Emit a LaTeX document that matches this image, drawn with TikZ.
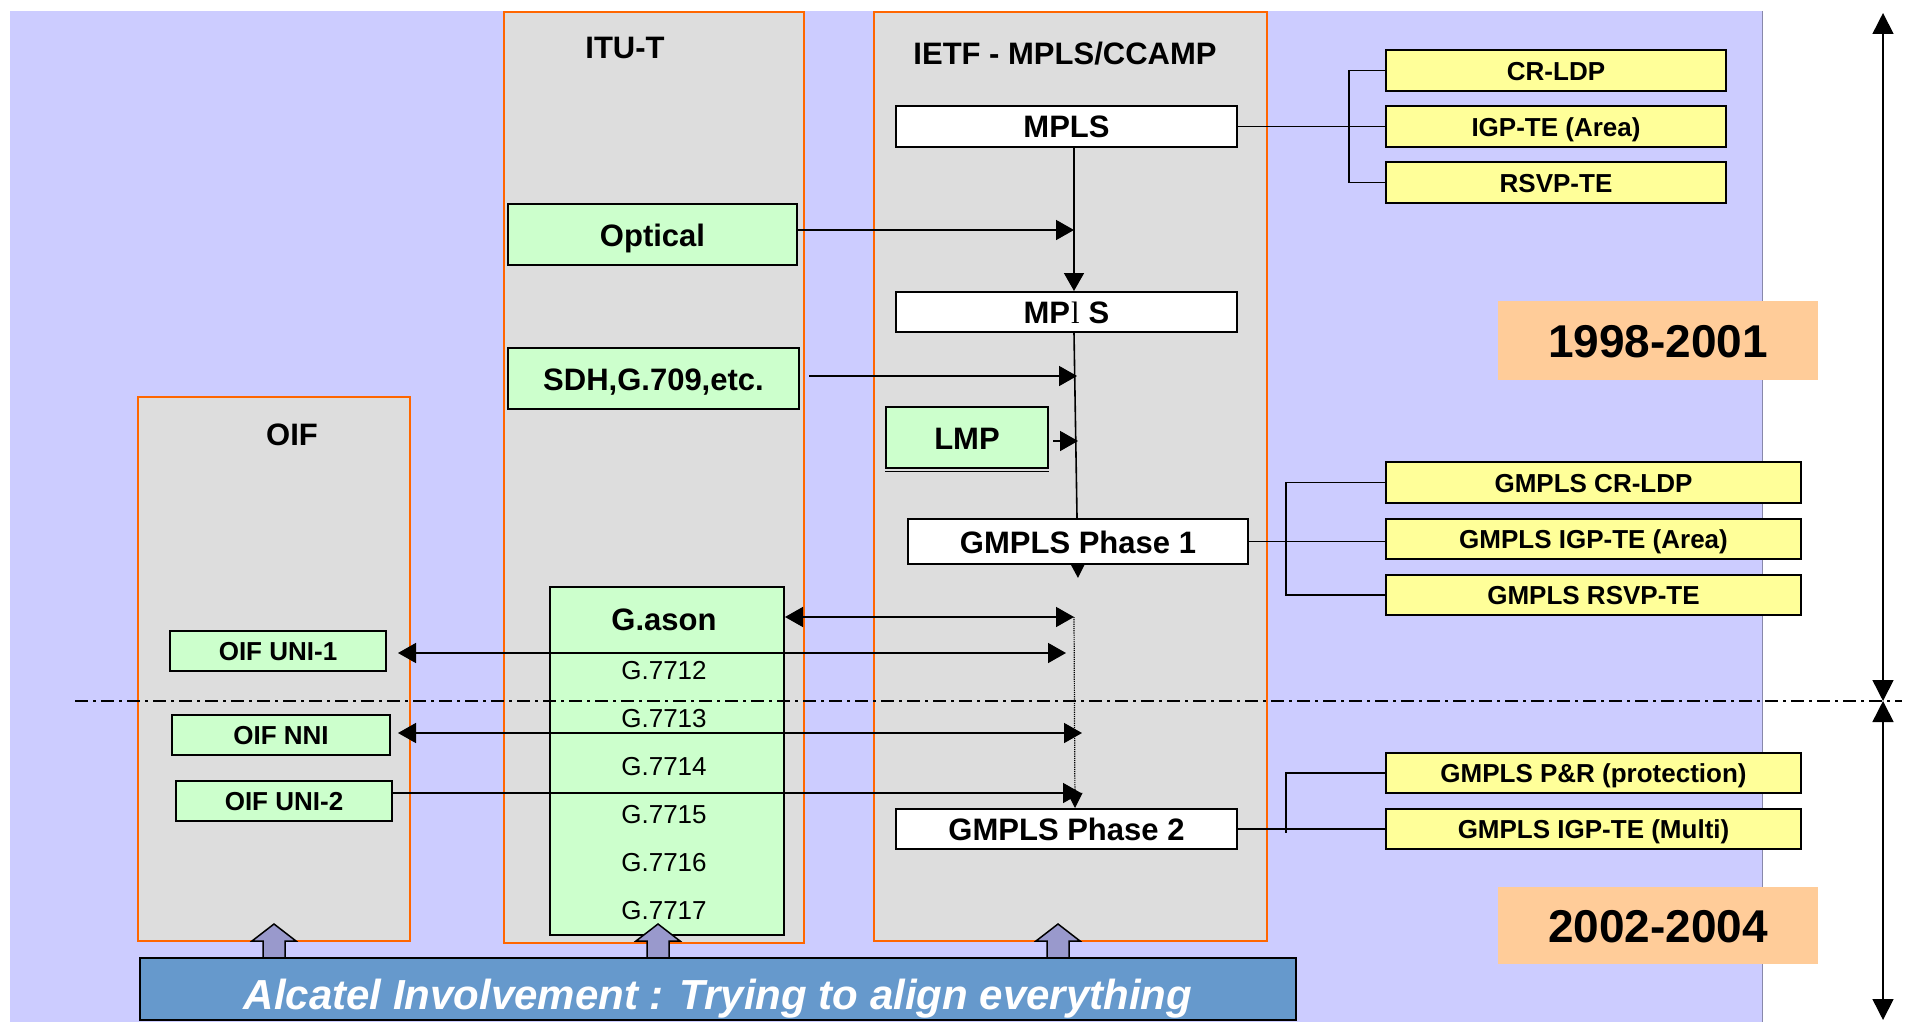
\documentclass[tikz,border=0pt]{standalone}
\usepackage{fontspec}
\setmainfont{Liberation Sans}
\newfontfamily\seriffont{Liberation Serif}
\usetikzlibrary{arrows.meta,calc}

\definecolor{lav}{HTML}{CCCCFF}
\definecolor{lavedge}{HTML}{8888AA}
\definecolor{colg}{HTML}{DDDDDD}
\definecolor{orng}{HTML}{FF6600}
\definecolor{grn}{HTML}{CCFFCC}
\definecolor{yel}{HTML}{FFFF99}
\definecolor{peach}{HTML}{FFCC99}
\definecolor{barblue}{HTML}{6699CC}
\definecolor{barrow}{HTML}{9999CC}

\pgfdeclarelayer{back}
\pgfdeclarelayer{mid}
\pgfsetlayers{back,mid,main}

\begin{document}
\begin{tikzpicture}[x=1pt,y=-1pt,
  col/.style={draw=orng, line width=2pt, fill=colg, inner sep=0pt},
  box/.style={draw=black, line width=2pt, inner sep=0pt, text height=23pt, text depth=0pt,
              font=\bfseries\fontsize{31}{31}\selectfont},
  wbox/.style={box, fill=white},
  gbox/.style={box, fill=grn},
  ybox/.style={box, fill=yel, text height=19.5pt, font=\bfseries\fontsize{26}{26}\selectfont},
  sbox/.style={box, fill=grn, text height=19.5pt, font=\bfseries\fontsize{26}{26}\selectfont},
  hdr/.style={font=\bfseries\fontsize{31}{31}\selectfont},
  gtxt/.style={font=\fontsize{26}{26}\selectfont},
  yearbox/.style={fill=peach, inner sep=0pt, text height=34pt, text depth=0pt,
                  font=\bfseries\fontsize{46}{46}\selectfont},
  plain/.style={line width=1.6pt},
  conn/.style={line width=1.6pt, -{Triangle[length=18pt,width=20pt]}},
  both/.style={line width=1.6pt, {Triangle[length=18pt,width=20pt]}-{Triangle[length=18pt,width=20pt]}},
  blockarr/.style={draw=black, line width=1.5pt, fill=barrow, line join=miter},
]
\useasboundingbox (0,0) rectangle (1914,1022);

% background panel and the three standards columns
\begin{pgfonlayer}{back}
  \fill[lav] (10,11) rectangle (1762,1022);
  \draw[lavedge, line width=1pt] (1762,11) -- (1762,1022);
  \node[col, minimum width=272pt, minimum height=544pt] (oifcol) at (274,669) {};
  \node[col, minimum width=300pt, minimum height=931pt] (itucol) at (654,477.5) {};
  \node[col, minimum width=393pt, minimum height=929pt] (ietfcol) at (1070.5,476.5) {};
\end{pgfonlayer}

% column headings
\node[hdr] (hitu) at (625,48) {ITU-T};
\node[hdr] (hietf) at (1065,54) {IETF - MPLS/CCAMP};
\node[hdr] (hoif) at (292,435) {OIF};

% IETF boxes
\node[wbox, minimum width=341pt, minimum height=41pt] (mpls1) at (1066.5,126.5) {MPLS};
\node[wbox, minimum width=341pt, minimum height=40pt] (mpls2) at (1066.5,312) {MP\hspace{1pt}{\seriffont\mdseries l}\hspace{9pt}S};
\node[wbox, minimum width=340pt, minimum height=45pt] (gmpls1) at (1078,541.5) {GMPLS Phase 1};
\node[wbox, minimum width=341pt, minimum height=40pt] (gmpls2) at (1066.5,829) {GMPLS Phase 2};
\node[gbox, minimum width=162pt, minimum height=61pt] (lmp) at (967,437.5) {LMP};
\draw[line width=1.5pt] ([yshift=-2.5pt]lmp.south west) -- ([yshift=-2.5pt]lmp.south east);

% ITU-T boxes
\node[gbox, minimum width=289pt, minimum height=61pt] (optical) at (652.5,234.5) {Optical};
\node[gbox, minimum width=291pt, minimum height=61pt] (sdh) at (653.5,378.5) {SDH,G.709,etc.};
\node[gbox, minimum width=234pt, minimum height=348pt] (gason) at (667,761) {};
\node[hdr] (gasont) at (664,620) {G.ason};
\node[gtxt] (g12) at (664,671) {G.7712};
\node[gtxt] (g13) at (664,719) {G.7713};
\node[gtxt] (g14) at (664,767) {G.7714};
\node[gtxt] (g15) at (664,815) {G.7715};
\node[gtxt] (g16) at (664,863) {G.7716};
\node[gtxt] (g17) at (664,911) {G.7717};

% OIF boxes
\node[sbox, minimum width=216pt, minimum height=40pt] (uni1) at (278,651) {OIF UNI-1};
\node[sbox, minimum width=218pt, minimum height=40pt] (nni) at (281,735) {OIF NNI};
\node[sbox, minimum width=216pt, minimum height=40pt] (uni2) at (284,801) {OIF UNI-2};

% protocol boxes on the right
\node[ybox, minimum width=340pt, minimum height=41pt] (crldp) at (1556,70.5) {CR-LDP};
\node[ybox, minimum width=340pt, minimum height=41pt] (igpte) at (1556,126.5) {IGP-TE (Area)};
\node[ybox, minimum width=340pt, minimum height=41pt] (rsvp) at (1556,182.5) {RSVP-TE};
\node[ybox, minimum width=415pt, minimum height=41pt] (gcrldp) at (1593.5,482.5) {GMPLS CR-LDP};
\node[ybox, minimum width=415pt, minimum height=40pt] (gigp) at (1593.5,539) {GMPLS IGP-TE (Area)};
\node[ybox, minimum width=415pt, minimum height=40pt] (grsvp) at (1593.5,595) {GMPLS RSVP-TE};
\node[ybox, minimum width=415pt, minimum height=40pt] (gpr) at (1593.5,773) {GMPLS P\&R (protection)};
\node[ybox, minimum width=415pt, minimum height=40pt] (gigpm) at (1593.5,829) {GMPLS IGP-TE (Multi)};

% period labels
\node[yearbox, minimum width=320pt, minimum height=79pt] (y1) at (1658,340.5) {1998-2001};
\node[yearbox, minimum width=320pt, minimum height=77pt] (y2) at (1658,925.5) {2002-2004};

% brackets from the IETF boxes to their protocols
\draw[plain] (crldp.west) -- ++(-36,0) |- (rsvp.west);
\draw[plain] (mpls1.east) -- (igpte.west);
\draw[plain] (gcrldp.west) -- ++(-99,0) |- (grsvp.west);
\draw[plain] (gmpls1.east) -- (gmpls1.east -| gigp.west);
\draw[plain] (gpr.west) -- ++(-99,0) -- ++(0,60);
\draw[plain] (gmpls2.east) -- (gmpls2.east -| gigpm.west);

% arrow tips on the IETF evolution line
\coordinate (tOpt) at (1074,230);
\coordinate (tSdh) at (1077,376);
\coordinate (tLmp) at (1078,441);
\coordinate (tGa) at (1074,617);
\coordinate (tU1) at (1066,653);
\coordinate (tNni) at (1082,733);
\coordinate (tU2) at (1081,793);

% evolution line of the IETF work
\draw[conn] ([xshift=7.5pt]mpls1.south) -- ([xshift=7.5pt]mpls2.north);
\begin{pgfonlayer}{mid}
  \draw[line width=1.6pt, -{Triangle[length=13pt,width=13pt]}] ([xshift=7.5pt]mpls2.south) -- ([yshift=-13pt]gmpls1.south);
\end{pgfonlayer}
\draw[line width=1.2pt, densely dotted, -{Triangle[length=15pt,width=15pt]}] (tGa) -- ([xshift=-3pt]gmpls1.south |- gmpls2.north);

% inputs from ITU-T and OIF
\draw[conn] (tOpt -| optical.east) -- (tOpt);
\draw[conn] ([xshift=9pt]tSdh -| sdh.east) -- (tSdh);
\draw[conn] ([xshift=4pt]tLmp -| lmp.east) -- (tLmp);
\draw[both] (tGa -| gason.east) -- (tGa);
\draw[both] ([xshift=11pt]tU1 -| uni1.east) -- (tU1);
\draw[both] ([xshift=7pt]tNni -| nni.east) -- (tNni);
\draw[conn] (tU2 -| uni2.east) -- (tU2);

% boundary between the two periods
\draw[line width=2pt, dash pattern=on 13pt off 5pt on 3pt off 5pt] (75,701) -- (1902,701);

% time axis
\coordinate (ttop) at (1883,13);
\coordinate (tmid) at (1883,701);
\coordinate (tbot) at (1883,1020);
\draw[line width=1.6pt, {Triangle[length=21pt,width=21pt]}-{Triangle[length=21pt,width=21pt]}] (ttop) -- (tmid);
\draw[line width=1.6pt, {Triangle[length=21pt,width=21pt]}-{Triangle[length=21pt,width=21pt]}] (tmid) -- (tbot);

% involvement bar with its arrows into the columns
\foreach \ax in {274,658,1058} {
  \draw[blockarr] (\ax-11,958) -- (\ax-11,941) -- (\ax-22,941) -- (\ax,924) -- (\ax+22,941) -- (\ax+11,941) -- (\ax+11,958) -- cycle;
}
\node[draw=black, line width=2pt, fill=barblue, minimum width=1156pt, minimum height=62pt, inner sep=0pt,
      text height=40pt, text depth=0pt,
      text=white, font=\bfseries\itshape\fontsize{42}{42}\selectfont] (bar) at (718,989)
      {Alcatel Involvement : Trying to align everything};
\end{tikzpicture}
\end{document}
